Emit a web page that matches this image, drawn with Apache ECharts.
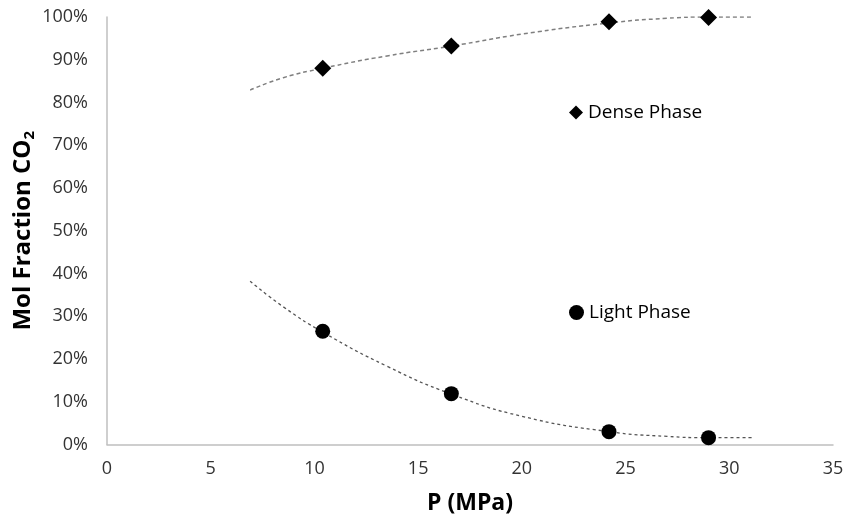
<!DOCTYPE html>
<html><head><meta charset="utf-8">
<script src="https://cdn.jsdelivr.net/npm/echarts@6/dist/echarts.min.js"></script>
<style>html,body{margin:0;padding:0;background:#fff}#c{width:847px;height:523px}</style>
</head><body><div id="c"></div>
<script>
var denseX = [10.4, 16.6, 24.2, 29.0];
var denseY = [88.0, 93.2, 98.9, 99.9];
var lightX = [10.4, 16.6, 24.2, 29.0];
var lightY = [26.5, 11.9, 3.0, 1.6];
var denseTrendX = [6.9, 8.5, 10.4, 13.5, 16.6, 20, 24.2, 27, 29, 31.1];
var denseTrendY = [82.9, 85.8, 88.0, 90.9, 93.2, 96.0, 98.6, 99.7, 100, 100];
var lightTrendX = [6.9, 8.5, 10.4, 13.5, 16.6, 20, 24.2, 27, 29, 31.1];
var lightTrendY = [38.2, 32.2, 26.3, 18.3, 11.8, 6.6, 3.0, 1.9, 1.6, 1.6];
var xTicks = [0, 5, 10, 15, 20, 25, 30, 35];
var yTicks = [0, 10, 20, 30, 40, 50, 60, 70, 80, 90, 100];

function zip(a, b) { return a.map(function (v, i) { return [v, b[i]]; }); }
var font = '"Open Sans", "Liberation Sans", sans-serif';
var chart = echarts.init(document.getElementById('c'), null, {renderer: 'canvas'});
chart.setOption({
  animation: false,
  backgroundColor: '#fff',
  textStyle: {fontFamily: font},
  grid: {left: 107, right: 14, top: 17, bottom: 78.5, outerBoundsMode: 'none', containLabel: false},
  legend: [
    {left: 564, top: 98, itemWidth: 14, itemHeight: 14,
     data: [{name: 'Dense Phase', icon: 'diamond', itemStyle: {opacity: 1}}],
     textStyle: {fontSize: 19, color: '#000', fontFamily: font}},
    {left: 564, top: 298, itemWidth: 15, itemHeight: 15,
     data: [{name: 'Light Phase', icon: 'circle', itemStyle: {opacity: 1}}],
     textStyle: {fontSize: 19, color: '#000', fontFamily: font}}
  ],
  xAxis: {
    type: 'value', min: xTicks[0], max: xTicks[xTicks.length - 1], interval: 5,
    name: 'P (MPa)', nameLocation: 'middle', nameGap: 47,
    nameTextStyle: {fontSize: 23, fontWeight: 'bold', color: '#000', fontFamily: font},
    axisLine: {lineStyle: {color: '#bfbfbf', width: 1.5}},
    axisTick: {show: false},
    splitLine: {show: false},
    axisLabel: {fontSize: 18, color: '#333', margin: 15}
  },
  yAxis: {
    type: 'value', min: yTicks[0], max: yTicks[yTicks.length - 1], interval: 10,
    name: '{a|Mol Fraction CO}{s|2}', nameLocation: 'middle', nameGap: 70, nameRotate: 90,
    nameMoveOverlap: false,
    nameTextStyle: {
      rich: {
        a: {fontSize: 24, fontWeight: 'bold', color: '#000', fontFamily: font},
        s: {fontSize: 15, fontWeight: 'bold', color: '#000', fontFamily: font, padding: [12, 0, 0, 0]}
      }
    },
    axisLine: {show: true, lineStyle: {color: '#bfbfbf', width: 1.5}},
    axisTick: {show: false},
    splitLine: {show: false},
    axisLabel: {fontSize: 18, color: '#333', margin: 19, formatter: '{value}%'}
  },
  series: [
    {type: 'line', name: 'denseTrend', data: zip(denseTrendX, denseTrendY), smooth: true, showSymbol: false,
     lineStyle: {color: '#7f7f7f', width: 1.5, type: [4, 3]}, z: 1, silent: true},
    {type: 'line', name: 'lightTrend', data: zip(lightTrendX, lightTrendY), smooth: true, showSymbol: false,
     lineStyle: {color: '#555', width: 1.3, type: [3, 3]}, z: 1, silent: true},
    {type: 'scatter', name: 'Dense Phase', data: zip(denseX, denseY), symbol: 'diamond', symbolSize: 17,
     itemStyle: {color: '#000', opacity: 1}, z: 3},
    {type: 'scatter', name: 'Light Phase', data: zip(lightX, lightY), symbol: 'circle', symbolSize: 15,
     itemStyle: {color: '#000', opacity: 1}, z: 3}
  ]
});
</script></body></html>
